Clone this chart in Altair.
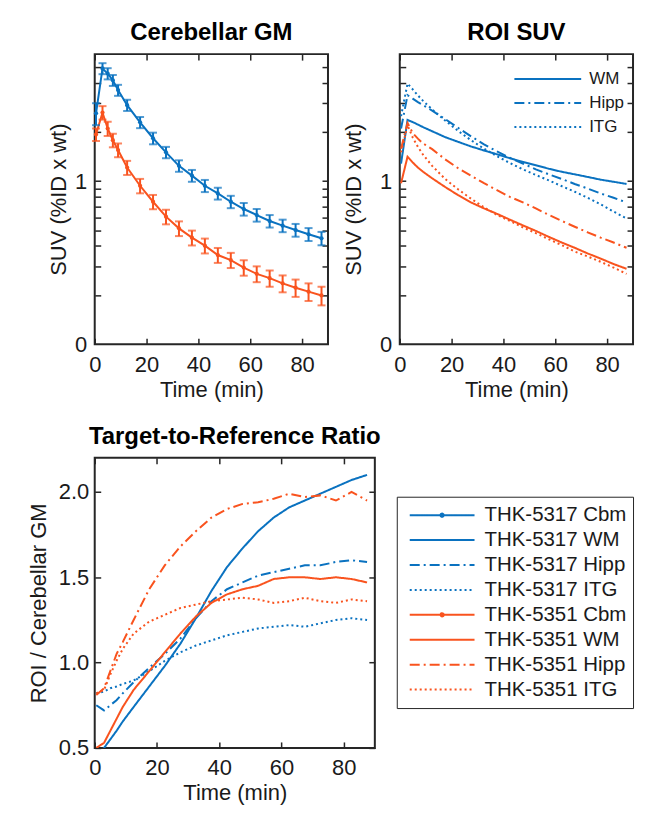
import altair as alt
import pandas as pd

FONT = "Liberation Sans"
BLUE = "#0A72C0"
ORANGE = "#F9531E"
INK = "#1a1a1a"

# frame mid-times (min)
t = [0.5, 3, 5, 7, 9, 12.5, 17.5, 22.5, 27.5, 32.5, 37.5, 42.5, 47.5, 52.5,
     57.5, 62.5, 67.5, 72.5, 77.5, 82.5, 87.5]

# Cerebellar GM SUV (mean, SD)
cbm_5317 = [2.60, 4.90, 4.56, 4.15, 3.61, 2.92, 2.29, 1.83, 1.50, 1.24, 1.08,
            0.936, 0.840, 0.747, 0.674, 0.619, 0.569, 0.533, 0.501, 0.472, 0.446]
cbm_5317_sd = [0.40, 0.38, 0.36, 0.32, 0.28, 0.23, 0.18, 0.15, 0.12, 0.10, 0.09,
               0.08, 0.07, 0.065, 0.06, 0.055, 0.05, 0.047, 0.045, 0.043, 0.042]
cbm_5351 = [1.93, 2.63, 2.10, 1.78, 1.55, 1.21, 0.936, 0.747, 0.605, 0.513, 0.450,
            0.402, 0.352, 0.328, 0.295, 0.270, 0.254, 0.236, 0.222, 0.210, 0.199]
cbm_5351_sd = [0.17, 0.25, 0.21, 0.17, 0.15, 0.12, 0.095, 0.075, 0.062, 0.053, 0.047,
               0.042, 0.037, 0.035, 0.032, 0.030, 0.029, 0.028, 0.027, 0.026, 0.026]

# ROI SUV
wm_5317 = [1.28, 2.37, 2.30, 2.22, 2.14, 2.02, 1.86, 1.74, 1.63, 1.54, 1.46,
           1.38, 1.31, 1.25, 1.19, 1.14, 1.10, 1.06, 1.02, 0.99, 0.96]
hipp_5317 = [2.10, 3.36, 3.20, 3.05, 2.92, 2.70, 2.40, 2.12, 1.88, 1.68, 1.52,
             1.39, 1.28, 1.18, 1.10, 1.03, 0.96, 0.90, 0.84, 0.79, 0.74]
itg_5317 = [2.50, 3.96, 3.65, 3.35, 3.10, 2.75, 2.35, 2.03, 1.78, 1.58, 1.42,
            1.29, 1.18, 1.09, 1.01, 0.93, 0.86, 0.79, 0.72, 0.65, 0.59]
wm_5351 = [0.97, 1.41, 1.30, 1.21, 1.14, 1.04, 0.92, 0.82, 0.74, 0.68, 0.63,
           0.58, 0.535, 0.495, 0.455, 0.42, 0.39, 0.36, 0.335, 0.31, 0.29]
hipp_5351 = [1.58, 2.27, 1.97, 1.82, 1.70, 1.57, 1.36, 1.20, 1.08, 0.97, 0.88,
             0.80, 0.74, 0.68, 0.62, 0.57, 0.525, 0.485, 0.45, 0.42, 0.39]
itg_5351 = [1.50, 2.20, 1.85, 1.62, 1.45, 1.24, 1.03, 0.89, 0.78, 0.69, 0.62,
            0.57, 0.52, 0.48, 0.44, 0.405, 0.37, 0.345, 0.32, 0.295, 0.27]

# Target-to-reference ratios
r_wm_5317 = [0.46, 0.50, 0.55, 0.60, 0.655, 0.74, 0.86, 0.98, 1.11, 1.26, 1.42,
             1.56, 1.67, 1.77, 1.85, 1.91, 1.95, 1.99, 2.03, 2.07, 2.10]
r_hipp_5317 = [0.75, 0.72, 0.75, 0.78, 0.82, 0.885, 0.97, 1.05, 1.14, 1.26, 1.36,
               1.43, 1.47, 1.51, 1.53, 1.55, 1.57, 1.57, 1.59, 1.60, 1.59]
r_itg_5317 = [0.82, 0.83, 0.85, 0.86, 0.875, 0.895, 0.95, 1.01, 1.06, 1.10, 1.13,
              1.16, 1.18, 1.20, 1.21, 1.22, 1.21, 1.23, 1.25, 1.26, 1.25]
r_wm_5351 = [0.50, 0.53, 0.60, 0.67, 0.74, 0.84, 0.95, 1.06, 1.17, 1.27, 1.35,
             1.40, 1.43, 1.45, 1.49, 1.50, 1.50, 1.49, 1.50, 1.49, 1.47]
r_hipp_5351 = [0.81, 0.85, 0.95, 1.05, 1.12, 1.25, 1.43, 1.57, 1.68, 1.77, 1.85,
               1.90, 1.93, 1.94, 1.96, 1.99, 1.97, 1.98, 1.95, 2.00, 1.95]
r_itg_5351 = [0.82, 0.84, 0.93, 1.01, 1.08, 1.17, 1.24, 1.28, 1.32, 1.34, 1.36,
              1.37, 1.38, 1.37, 1.35, 1.36, 1.38, 1.36, 1.35, 1.37, 1.36]

tracers = ["THK-5317", "THK-5351"]
regions = ["WM", "Hipp", "ITG"]
series = ["THK-5317 Cbm", "THK-5317 WM", "THK-5317 Hipp", "THK-5317 ITG",
          "THK-5351 Cbm", "THK-5351 WM", "THK-5351 Hipp", "THK-5351 ITG"]
x_ticks = [0, 20, 40, 60, 80]
log_minor = [0.2, 0.3, 0.4, 0.5, 0.6, 0.7, 0.8, 0.9, 1, 2, 3, 4, 5]
ratio_ticks = [0.5, 1.0, 1.5, 2.0]

SOLID = [1, 0]
DASHDOT = [10, 4, 2, 4]
DOTTED = [2, 3]
LINE_PATH = "M-1,0L1,0"
DOT_PATH = "M-1,0L1,0M-0.05,0A0.05,0.05,0,1,1,0.05,0A0.05,0.05,0,1,1,-0.05,0"

# ---------- tables ----------
n = len(t)
df1 = pd.DataFrame({
    "t": t * 2,
    "v": cbm_5317 + cbm_5351,
    "sd": cbm_5317_sd + cbm_5351_sd,
    "tracer": ["THK-5317"] * n + ["THK-5351"] * n,
})
rows2 = []
for tr, vals in [("THK-5317", [wm_5317, hipp_5317, itg_5317]),
                 ("THK-5351", [wm_5351, hipp_5351, itg_5351])]:
    for reg, v in zip(regions, vals):
        for ti, vi in zip(t, v):
            rows2.append({"t": ti, "v": vi, "tracer": tr, "region": reg})
df2 = pd.DataFrame(rows2)
rows3 = []
for name, v in [("THK-5317 WM", r_wm_5317), ("THK-5317 Hipp", r_hipp_5317),
                ("THK-5317 ITG", r_itg_5317), ("THK-5351 WM", r_wm_5351),
                ("THK-5351 Hipp", r_hipp_5351), ("THK-5351 ITG", r_itg_5351)]:
    for ti, vi in zip(t, v):
        rows3.append({"t": ti, "v": vi, "series": name})
df3 = pd.DataFrame(rows3)

W1, W3, H = 234, 281, 291
xs = alt.Scale(domain=[0, 90], nice=False)
ys_log = alt.Scale(type="log", domain=[0.1, 6], nice=False)
ys_ratio = alt.Scale(domain=[0.5, 2.2], nice=False, zero=False)

def main_x():
    return alt.Axis(values=x_ticks, ticks=False, tickSize=0, domain=False, grid=False,
                    labelFlush=False, labelPadding=10, title="Time (min)", titlePadding=4)

def log_axis(title_pad):
    return alt.Axis(values=[0.1, 1], labelExpr="datum.value < 0.5 ? '0' : '1'",
                    ticks=False, tickSize=0, domain=False, grid=False, labelPadding=8,
                    title="SUV (%ID x wt)", titlePadding=title_pad)

def tick_layers(data, yfield, yscale, yvals, W):
    kw = dict(labels=False, domain=False, grid=False, ticks=True, tickSize=6, title=None)
    base = alt.Chart(data).mark_point(opacity=0)
    a = base.encode(
        x=alt.X("t:Q", scale=xs, axis=alt.Axis(orient="top", offset=-H, values=x_ticks, **kw)),
        y=alt.Y(yfield, scale=yscale, axis=alt.Axis(orient="right", offset=-W, values=yvals, **kw)),
    )
    b = base.encode(
        x=alt.X("t:Q", scale=xs, axis=alt.Axis(orient="bottom", offset=-H, values=x_ticks, **kw)),
        y=alt.Y(yfield, scale=yscale, axis=alt.Axis(orient="left", offset=-W, values=yvals, **kw)),
    )
    return [a, b]

# ---------- panel 1 ----------
color12 = alt.Color("tracer:N", scale=alt.Scale(domain=tracers, range=[BLUE, ORANGE]), legend=None)
b1 = alt.Chart(df1).transform_calculate(lo="datum.v - datum.sd", hi="datum.v + datum.sd")
x_noax = alt.X("t:Q", scale=xs, axis=None)
line1 = b1.mark_line(strokeWidth=2).encode(
    x=alt.X("t:Q", scale=xs, axis=main_x()),
    y=alt.Y("v:Q", scale=ys_log, axis=log_axis(4)), color=color12)
pts1 = b1.mark_point(filled=True, size=18, opacity=1).encode(
    x=x_noax, y=alt.Y("v:Q", scale=ys_log, axis=None), color=color12)
err1 = b1.mark_rule(strokeWidth=2).encode(
    x=x_noax, y=alt.Y("lo:Q", scale=ys_log, axis=None), y2="hi:Q", color=color12)
caplo = b1.mark_tick(orient="horizontal", size=8, thickness=2).encode(
    x=x_noax, y=alt.Y("lo:Q", scale=ys_log, axis=None), color=color12)
caphi = b1.mark_tick(orient="horizontal", size=8, thickness=2).encode(
    x=x_noax, y=alt.Y("hi:Q", scale=ys_log, axis=None), color=color12)
p1 = alt.layer(line1, err1, caplo, caphi, pts1,
               *tick_layers(df1, "v:Q", ys_log, log_minor, W1)).resolve_axis(
    x="independent", y="independent").properties(width=W1, height=H, title="Cerebellar GM")

# ---------- panel 2 ----------
dash2 = alt.StrokeDash("region:N", scale=alt.Scale(domain=regions, range=[SOLID, DASHDOT, DOTTED]),
                       legend=alt.Legend(title=None, orient="none", legendX=114, legendY=13,
                                         symbolType="stroke", symbolSize=4489,
                                         symbolStrokeColor=BLUE, symbolStrokeWidth=2,
                                         labelFontSize=17, labelFont=FONT, labelColor=INK,
                                         clipHeight=24, rowPadding=0, padding=0,
                                         labelOffset=7))
line2 = alt.Chart(df2).mark_line(strokeWidth=2).encode(
    x=alt.X("t:Q", scale=xs, axis=main_x()),
    y=alt.Y("v:Q", scale=ys_log, axis=log_axis(14)),
    color=color12, strokeDash=dash2, detail="tracer:N")
p2 = alt.layer(line2, *tick_layers(df2, "v:Q", ys_log, log_minor, W1)).resolve_axis(
    x="independent", y="independent").properties(width=W1, height=H, title="ROI SUV")

# ---------- panel 3 ----------
color3 = alt.Scale(domain=series, range=[BLUE] * 4 + [ORANGE] * 4)
dash3 = alt.Scale(domain=series, range=[SOLID, SOLID, DASHDOT, DOTTED] * 2)
shape3 = alt.Scale(domain=series, range=[DOT_PATH, LINE_PATH, LINE_PATH, LINE_PATH] * 2)
leg3 = alt.Legend(title=None, orient="none", legendX=303, legendY=39,
                  symbolSize=4225, symbolStrokeWidth=2, symbolOpacity=1,
                  clipHeight=25, rowPadding=0, padding=6, symbolOffset=6,
                  labelOffset=9, labelFontSize=20.5, labelFont=FONT, labelColor=INK,
                  labelLimit=400, strokeColor="#262626", fillColor="white")
y_ratio_axis = alt.Axis(values=ratio_ticks, format=".1f", ticks=False, tickSize=0,
                        domain=False, grid=False, labelPadding=6,
                        title="ROI / Cerebellar GM", titlePadding=8)
leg_layer = alt.Chart(df3).mark_point(filled=False, strokeWidth=2, opacity=0).encode(
    x=x_noax, y=alt.Y("v:Q", scale=ys_ratio, axis=None),
    color=alt.Color("series:N", scale=color3, legend=leg3),
    strokeDash=alt.StrokeDash("series:N", scale=dash3, legend=leg3),
    shape=alt.Shape("series:N", scale=shape3, legend=leg3))
line3 = alt.Chart(df3).mark_line(strokeWidth=2, clip=True).encode(
    x=alt.X("t:Q", scale=xs, axis=main_x()),
    y=alt.Y("v:Q", scale=ys_ratio, axis=y_ratio_axis),
    color=alt.Color("series:N", scale=color3, legend=None),
    strokeDash=alt.StrokeDash("series:N", scale=dash3, legend=None))
p3 = alt.layer(leg_layer, line3, *tick_layers(df3, "v:Q", ys_ratio, ratio_ticks, W3)).resolve_axis(
    x="independent", y="independent").properties(width=W3, height=H,
                                                  title="Target-to-Reference Ratio")

chart = alt.concat(p1, p2, p3, columns=2, spacing={"row": 114, "column": 25},
                   bounds="flush").resolve_scale(
    color="independent", strokeDash="independent", shape="independent"
).properties(
    padding={"left": 18, "top": 11, "right": 5, "bottom": 5}, background="white"
).configure_view(stroke="#262626", strokeWidth=2).configure_axis(
    labelFont=FONT, titleFont=FONT, labelFontSize=22, titleFontSize=22,
    titleFontWeight="normal", labelColor=INK, titleColor=INK,
    tickColor="#262626", tickWidth=1.5
).configure_title(font=FONT, fontSize=24, fontWeight="bold", color="black",
                  anchor="middle", offset=8)

chart.save("out.html", embed_options={"renderer": "svg", "actions": False})
